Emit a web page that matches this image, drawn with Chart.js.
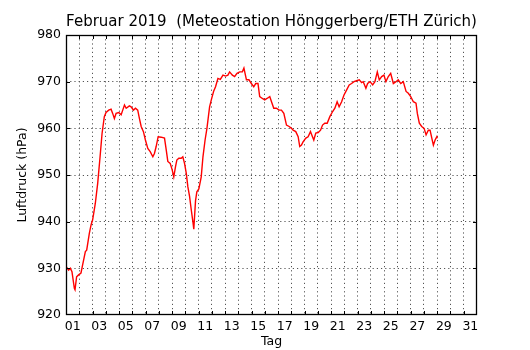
<!DOCTYPE html>
<html>
<head>
<meta charset="utf-8">
<script src="https://cdn.jsdelivr.net/npm/chart.js@4.4.1/dist/chart.umd.min.js"></script>
<style>
  html, body { margin: 0; padding: 0; background: #fff; }
  #myChart { display: block; }
</style>
</head>
<body>
<canvas id="myChart" width="530" height="350"></canvas>
<script>
// Luftdruck Februar 2019 (x = Tag im Monat, y = hPa)
const days = [
  1.00, 1.20, 1.33, 1.45, 1.63, 1.68, 1.80, 1.95, 2.13, 2.25,
  2.46, 2.56, 2.76, 2.89, 3.01, 3.21, 3.39, 3.57, 3.72, 3.89,
  4.02, 4.22, 4.40, 4.52, 4.65, 4.78, 4.98, 5.16, 5.28, 5.41,
  5.54, 5.78, 5.91, 6.09, 6.24, 6.41, 6.54, 6.67, 6.84, 6.99,
  7.17, 7.35, 7.55, 7.67, 7.80, 7.95, 8.18, 8.43, 8.56, 8.68,
  8.86, 9.01, 9.13, 9.26, 9.36, 9.51, 9.69, 9.81, 9.94, 10.07,
  10.19, 10.32, 10.45, 10.57, 10.64, 10.77, 10.87, 11.02, 11.20, 11.33,
  11.49, 11.63, 11.83, 11.96, 12.13, 12.28, 12.46, 12.64, 12.84, 13.04,
  13.21, 13.34, 13.55, 13.72, 13.90, 14.10, 14.30, 14.42, 14.61, 14.80,
  14.98, 15.16, 15.31, 15.48, 15.61, 15.81, 15.99, 16.16, 16.37, 16.50,
  16.67, 16.87, 17.07, 17.25, 17.43, 17.63, 17.83, 18.01, 18.13, 18.33,
  18.51, 18.63, 18.76, 18.88, 19.09, 19.26, 19.44, 19.59, 19.69, 19.84,
  20.02, 20.20, 20.35, 20.52, 20.70, 20.90, 21.11, 21.28, 21.45, 21.60,
  21.79, 21.96, 22.16, 22.36, 22.54, 22.72, 22.92, 23.12, 23.30, 23.42,
  23.62, 23.75, 23.93, 24.13, 24.30, 24.48, 24.63, 24.81, 24.98, 25.13,
  25.31, 25.49, 25.69, 25.89, 26.06, 26.25, 26.44, 26.65, 26.82, 27.00,
  27.20, 27.40, 27.50, 27.65, 27.83, 28.01, 28.16, 28.33, 28.46, 28.59,
  28.71, 28.84, 28.97, 29.01
];
const pressure = [
  930.4, 929.6, 930.0, 929.3, 925.7, 925.4, 928.2, 928.6, 929.0, 930.7,
  933.6, 933.9, 937.5, 939.3, 940.4, 943.9, 948.2, 953.9, 958.9, 962.5,
  963.4, 963.9, 964.1, 963.2, 962.1, 963.2, 963.4, 962.9, 963.9, 965.0,
  964.3, 964.8, 964.6, 963.9, 964.3, 963.9, 962.1, 960.4, 959.3, 957.5,
  955.7, 955.0, 953.9, 954.6, 956.1, 958.2, 958.1, 957.9, 955.4, 952.9,
  952.5, 951.1, 949.6, 951.8, 953.2, 953.6, 953.6, 953.9, 952.5, 950.4,
  947.5, 945.4, 942.5, 940.0, 938.4, 944.5, 946.4, 947.0, 949.6, 953.9,
  957.5, 960.0, 964.6, 966.1, 967.9, 968.9, 970.7, 970.5, 971.4, 971.2,
  971.4, 972.1, 971.4, 971.1, 971.8, 972.1, 972.1, 972.9, 970.4, 970.4,
  969.6, 968.9, 969.6, 969.6, 966.8, 966.4, 966.1, 966.4, 966.8, 965.7,
  964.3, 964.3, 963.9, 963.9, 963.2, 960.7, 960.4, 960.0, 959.6, 959.3,
  958.2, 956.1, 956.4, 957.1, 957.9, 958.2, 959.3, 958.2, 957.5, 959.0,
  959.1, 959.6, 960.7, 961.1, 961.1, 962.5, 963.6, 964.3, 965.7, 964.6,
  965.7, 967.1, 968.2, 969.3, 969.6, 970.0, 970.2, 970.4, 969.8, 970.0,
  968.6, 969.6, 970.0, 969.3, 970.0, 972.1, 970.4, 971.1, 971.4, 970.0,
  971.1, 971.8, 969.6, 970.0, 970.4, 969.6, 970.0, 967.9, 967.5, 966.8,
  965.7, 965.4, 963.2, 961.1, 960.4, 960.0, 958.6, 959.6, 959.6, 957.9,
  956.4, 957.5, 958.2, 957.9
];

// axes
const xMin = 1, xMax = 32;
const yMin = 920, yMax = 980, yStep = 10;
const labelDays = [1, 3, 5, 7, 9, 11, 13, 15, 17, 19, 21, 23, 25, 27, 29, 31];

const FONT = "'DejaVu Sans', sans-serif";
const points = days.map((d, i) => ({ x: d, y: pressure[i] }));

// frame + inward tick marks like the original plot
const framePlugin = {
  id: 'frame',
  afterDraw(chart) {
    const { ctx, chartArea: a, scales: { x, y } } = chart;
    ctx.save();
    ctx.strokeStyle = '#000';
    ctx.lineWidth = 1;
    ctx.beginPath();
    for (let d = xMin + 1; d < xMax; d++) {
      const px = Math.round(x.getPixelForValue(d)) + 0.5;
      ctx.moveTo(px, a.bottom); ctx.lineTo(px, a.bottom - 4);
      ctx.moveTo(px, a.top); ctx.lineTo(px, a.top + 4);
    }
    for (let v = yMin + yStep; v < yMax; v += yStep) {
      const py = Math.round(y.getPixelForValue(v)) + 0.5;
      ctx.moveTo(a.left, py); ctx.lineTo(a.left + 4, py);
      ctx.moveTo(a.right, py); ctx.lineTo(a.right - 4, py);
    }
    ctx.stroke();
    ctx.lineWidth = 1.3;
    ctx.strokeRect(a.left + 0.5, a.top + 0.5, a.right - a.left - 1, a.bottom - a.top - 1);
    ctx.restore();
  }
};

new Chart("myChart", {
  type: "line",
  data: {
    datasets: [{
      data: points,
      borderColor: "#ff0000",
      borderWidth: 1.4,
      pointRadius: 0,
      tension: 0,
      fill: false
    }]
  },
  options: {
    responsive: false,
    animation: false,
    events: [],
    layout: { padding: { left: 0, right: 53, top: 0, bottom: 0 } },
    plugins: {
      legend: { display: false },
      tooltip: { enabled: false },
      title: {
        display: true,
        fullSize: false,
        text: "Februar 2019  (Meteostation Hönggerberg/ETH Zürich)",
        color: "#000",
        font: { family: FONT, size: 15, weight: 'normal' },
        padding: { top: 13, bottom: 4 }
      }
    },
    scales: {
      x: {
        type: "linear",
        min: xMin,
        max: xMax,
        afterFit(scale) { scale.height = 35; },
        ticks: {
          stepSize: 0.5,
          autoSkip: false,
          maxRotation: 0,
          padding: 4.5,
          color: "#000",
          font: { family: FONT, size: 12.5 },
          callback(value) {
            const d = value - 0.5;
            return labelDays.includes(d) ? String(d).padStart(2, "0") : "";
          }
        },
        grid: {
          drawTicks: false,
          lineWidth: 1,
          color(ctx) {
            const v = ctx.tick ? ctx.tick.value : 0;
            if (v <= xMin || v >= xMax || v % 1 !== 0) return "rgba(0,0,0,0)";
            return "#555";
          }
        },
        border: { display: false, dash: [1.2, 3] },
        title: {
          display: true,
          text: "Tag",
          color: "#000",
          font: { family: FONT, size: 12.5 },
          padding: { top: 0, bottom: 0.5 }
        }
      },
      y: {
        min: yMin,
        max: yMax,
        afterFit(scale) { scale.width = 66; },
        ticks: {
          stepSize: yStep,
          padding: 5,
          color: "#000",
          font: { family: FONT, size: 12.5 }
        },
        grid: {
          drawTicks: false,
          lineWidth: 1,
          color(ctx) {
            const v = ctx.tick ? ctx.tick.value : yMin;
            return (v <= yMin || v >= yMax) ? "rgba(0,0,0,0)" : "#555";
          }
        },
        border: { display: false, dash: [1.2, 3] },
        title: {
          display: true,
          text: "Luftdruck (hPa)",
          color: "#000",
          font: { family: FONT, size: 12.5 },
          padding: { top: 15, bottom: 0 }
        }
      }
    }
  },
  plugins: [framePlugin]
});
</script>
</body>
</html>
